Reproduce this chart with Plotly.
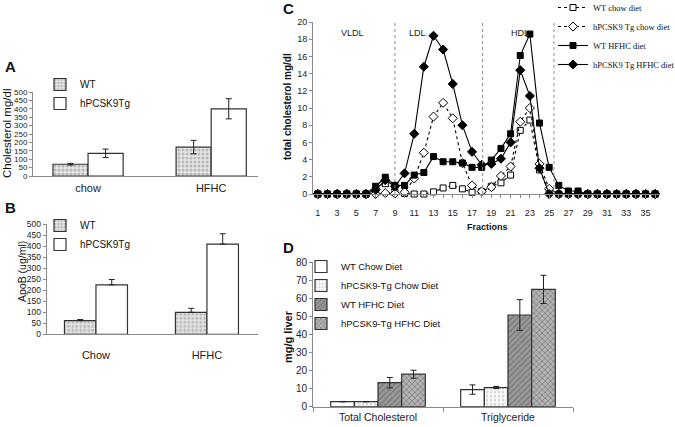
import plotly.graph_objects as go

W, H = 675, 427
def fx(px): return px / W
def fy(py): return 1 - py / H

SANS = "Arial, Liberation Sans, sans-serif"
SERIF = "Times New Roman, Liberation Serif, serif"

# ---------- Panel A: plasma cholesterol ----------
a_cats = ["chow", "HFHC"]
a_wt = [70, 172]
a_wt_err = [5, 40]
a_tg = [135, 400]
a_tg_err = [25, 60]

# ---------- Panel B: ApoB ----------
b_cats = ["Chow", "HFHC"]
b_wt = [62, 100]
b_wt_err = [5, 18]
b_tg = [225, 410]
b_tg_err = [24, 47]

# ---------- Panel C: FPLC fractions ----------
fractions = list(range(1, 37))
c_wt_chow = [0, 0, 0, 0, 0, 0, 0.4, 1.2, 0.2, 0.05, 0, 0, 0.25, 0.7, 1.0, 0.6, 0.2, 0.3,
             0.9, 1.3, 2.2, 7.4, 8.6, 2.8, 0.2, 0, 0, 0, 0, 0, 0, 0, 0, 0, 0, 0]
c_tg_chow = [0, 0, 0, 0, 0, 0, 0, 0.1, 0.05, 0.2, 1.8, 4.8, 9.0, 10.6, 8.8, 3.6, 1.0, 0.3,
             0.8, 2.1, 3.2, 8.4, 10.0, 3.5, 0.6, 0, 0, 0, 0, 0, 0, 0, 0, 0, 0, 0]
c_wt_hfhc = [0, 0, 0, 0, 0, 0, 0.9, 1.95, 1.0, 1.0, 2.2, 2.5, 4.35, 3.75, 3.75, 3.6, 3.1, 3.1,
             3.95, 5.3, 7.0, 16.1, 18.6, 8.25, 3.1, 1.0, 0.35, 0.35, 0, 0, 0, 0, 0, 0, 0, 0]
c_tg_hfhc = [0, 0, 0, 0, 0, 0, 0.5, 1.6, 0.9, 2.4, 7.0, 14.8, 18.4, 16.8, 12.8, 8.0, 4.9, 3.4,
             3.5, 4.1, 6.0, 14.4, 11.4, 3.0, 0, 0, 0, 0, 0, 0, 0, 0, 0, 0, 0, 0]
c_boundaries = [9, 18.1, 25.5]
c_regions = ["VLDL", "LDL", "HDL"]
c_region_pos = [4.6, 11.3, 22.0]

# ---------- Panel D: liver lipids ----------
d_cats = ["Total Cholesterol", "Triglyceride"]
d_wt_chow = [2.8, 9.5]
d_wt_chow_err = [0.1, 2.6]
d_tg_chow = [2.8, 10.6]
d_tg_chow_err = [0.1, 0.6]
d_wt_hfhc = [13.3, 50.8]
d_wt_hfhc_err = [2.9, 8.5]
d_tg_hfhc = [18.0, 65.0]
d_tg_hfhc_err = [2.2, 7.8]

fig = go.Figure()

OUT = "#333333"
ERR = dict(type="data", color="#222222", thickness=1, width=3)
wt_pattern = dict(shape=".", bgcolor="#e6e6e6", fgcolor="#8a8a8a", size=4, solidity=0.45)

# Panel A
fig.add_trace(go.Bar(x=a_cats, y=a_wt, name="WT", xaxis="x", yaxis="y", legend="legend",
                     width=0.285, offset=-0.285,
                     marker=dict(color="#e6e6e6", pattern=wt_pattern, line=dict(color=OUT, width=1.2)),
                     error_y=dict(array=a_wt_err, **ERR)))
fig.add_trace(go.Bar(x=a_cats, y=a_tg, name="hPCSK9Tg", xaxis="x", yaxis="y", legend="legend",
                     width=0.285, offset=0,
                     marker=dict(color="white", line=dict(color=OUT, width=1.2)),
                     error_y=dict(array=a_tg_err, **ERR)))

# Panel B
fig.add_trace(go.Bar(x=b_cats, y=b_wt, name="WT", xaxis="x2", yaxis="y2", legend="legend2",
                     width=0.284, offset=-0.284,
                     marker=dict(color="#e6e6e6", pattern=wt_pattern, line=dict(color=OUT, width=1.2)),
                     error_y=dict(array=b_wt_err, arrayminus=[0, 0], symmetric=False, **ERR)))
fig.add_trace(go.Bar(x=b_cats, y=b_tg, name="hPCSK9Tg", xaxis="x2", yaxis="y2", legend="legend2",
                     width=0.284, offset=0,
                     marker=dict(color="white", line=dict(color=OUT, width=1.2)),
                     error_y=dict(array=b_tg_err, arrayminus=[0, 0], symmetric=False, **ERR)))

# Panel C
c_specs = [
    (c_wt_chow, "WT chow diet", "dot", dict(symbol="square", size=6, color="white", line=dict(color="black", width=1))),
    (c_tg_chow, "hPCSK9 Tg chow diet", "dot", dict(symbol="diamond", size=7, color="white", line=dict(color="black", width=1))),
    (c_wt_hfhc, "WT HFHC diet", "solid", dict(symbol="square", size=6, color="black", line=dict(color="black", width=1))),
    (c_tg_hfhc, "hPCSK9 Tg HFHC diet", "solid", dict(symbol="diamond", size=7, color="black", line=dict(color="black", width=1))),
]
for ys, nm, dash, mk in c_specs:
    fig.add_trace(go.Scatter(x=fractions, y=ys, name=nm, mode="lines+markers", xaxis="x3", yaxis="y3",
                             legend="legend3", cliponaxis=False,
                             line=dict(color="black", width=1.1, dash=dash), marker=mk))

# Panel D
d_specs = [
    (d_wt_chow, d_wt_chow_err, "WT Chow Diet", -0.364, dict(color="white", line=dict(color=OUT, width=1.2))),
    (d_tg_chow, d_tg_chow_err, "hPCSK9-Tg Chow Diet", -0.182,
     dict(color="white", pattern=dict(shape=".", bgcolor="white", fgcolor="#b0b0b0", size=4, solidity=0.4),
          line=dict(color=OUT, width=1.2))),
    (d_wt_hfhc, d_wt_hfhc_err, "WT HFHC Diet", 0.0,
     dict(color="#8c8c8c", pattern=dict(shape="/", bgcolor="#9a9a9a", fgcolor="#555555", size=4, solidity=0.35),
          line=dict(color=OUT, width=1.2))),
    (d_tg_hfhc, d_tg_hfhc_err, "hPCSK9-Tg HFHC Diet", 0.182,
     dict(color="#a0a0a0", pattern=dict(shape="x", bgcolor="#b4b4b4", fgcolor="#555555", size=4, solidity=0.4),
          line=dict(color=OUT, width=1.2))),
]
for ys, es, nm, off, mk in d_specs:
    fig.add_trace(go.Bar(x=d_cats, y=ys, name=nm, xaxis="x4", yaxis="y4", legend="legend4",
                         width=0.182, offset=off, marker=mk, error_y=dict(array=es, **ERR)))

def yax(size):
    return dict(showgrid=False, zeroline=False, showline=True, linecolor="#8a8a8a", linewidth=1,
                ticks="outside", ticklen=3, tickcolor="#8a8a8a",
                tickfont=dict(family=SANS, size=size, color="#222222"))

def xax(size):
    return dict(showgrid=False, zeroline=False, showline=True, linecolor="#8a8a8a", linewidth=1,
                tickfont=dict(family=SANS, size=size, color="#222222"))

fig.update_layout(
    width=W, height=H, margin=dict(l=0, r=0, t=0, b=0, autoexpand=False),
    paper_bgcolor="white", plot_bgcolor="white", barmode="overlay", showlegend=True,
    font=dict(family=SANS, color="#222222"),
    xaxis=dict(domain=[fx(33), fx(258)], anchor="y", type="category", range=[-0.447, 1.38],
               ticks="", ticklabelstandoff=2, **xax(11)),
    yaxis=dict(domain=[fy(176), fy(92)], anchor="x", range=[0, 500], dtick=50, **yax(8)),
    xaxis2=dict(domain=[fx(46.7), fx(258)], anchor="y2", type="category", range=[-0.444, 1.46],
                ticks="", ticklabelstandoff=10, **xax(11)),
    yaxis2=dict(domain=[fy(334.3), fy(224.3)], anchor="x2", range=[0, 500], dtick=50, **yax(8.5)),
    xaxis3=dict(domain=[fx(313), fx(660)], anchor="y3", range=[0.5, 36.5], tickmode="linear", tick0=1, dtick=2,
                ticks="outside", ticklen=3, tickcolor="#8a8a8a",
                minor=dict(dtick=1, tick0=1, ticks="outside", ticklen=3, tickcolor="#8a8a8a"),
                showgrid=False, zeroline=False, showline=True, linecolor="#8a8a8a",
                tickfont=dict(family=SANS, size=9, color="#222222"), ticklabelstandoff=7),
    yaxis3=dict(domain=[fy(194), fy(22)], anchor="x3", range=[0, 20], dtick=2, **yax(9)),
    xaxis4=dict(domain=[fx(313), fx(573)], anchor="y4", type="category", range=[-0.5, 1.5],
                ticks="outside", tickson="boundaries", ticklen=4, tickcolor="#8a8a8a",
                ticklabelstandoff=1, **xax(10.5)),
    yaxis4=dict(domain=[fy(406.7), fy(262.3)], anchor="x4", range=[0, 80], dtick=10, **yax(10)),
    legend=dict(x=fx(40), y=fy(70), xanchor="left", yanchor="top", bgcolor="rgba(0,0,0,0)",
                font=dict(family=SANS, size=10, color="#111111"), itemwidth=30),
    legend2=dict(x=fx(40), y=fy(211), xanchor="left", yanchor="top", bgcolor="rgba(0,0,0,0)",
                 font=dict(family=SANS, size=10, color="#111111"), itemwidth=30),
    legend3=dict(x=fx(553), y=fy(-7), xanchor="left", yanchor="top", bgcolor="rgba(0,0,0,0)",
                 font=dict(family=SERIF, size=8.5, color="#111111"), itemwidth=30),
    legend4=dict(x=fx(301), y=fy(252), xanchor="left", yanchor="top", bgcolor="rgba(0,0,0,0)",
                 font=dict(family=SANS, size=9.5, color="#111111"), itemwidth=30),
)

# Dashed region boundaries in panel C
for b in c_boundaries:
    fig.add_shape(type="line", xref="x3", yref="y3", x0=b, x1=b, y0=0, y1=20,
                  line=dict(color="#8a8a8a", width=1, dash="dot"))
for nm, pos in zip(c_regions, c_region_pos):
    fig.add_annotation(xref="x3", yref="y3", x=pos, y=18.7, text=nm, showarrow=False,
                       font=dict(family=SANS, size=9, color="#222222"))

def label(text, px, py, size=11, bold=False, angle=0, xanchor="center", family=SANS):
    fig.add_annotation(xref="paper", yref="paper", x=fx(px), y=fy(py), text=f"<b>{text}</b>" if bold else text,
                       showarrow=False, textangle=angle, xanchor=xanchor, yanchor="middle",
                       font=dict(family=family, size=size, color="#111111"))

label("A", 3, 67, size=15, bold=True, xanchor="left")
label("B", 3, 207, size=15, bold=True, xanchor="left")
label("C", 281, 8, size=15, bold=True, xanchor="left")
label("D", 281, 247, size=15, bold=True, xanchor="left")
label("Cholesterol mg/dl", 7, 134, size=11.5, angle=-90)
label("ApoB (ug/ml)", 22, 271, size=10.5, angle=-90)
label("total cholesterol mg/dl", 287, 107, size=10, bold=True, angle=-90)
label("Fractions", 487, 227, size=9, bold=True)
label("mg/g liver", 288, 337, size=11, bold=True, angle=-90)

fig.write_html("out.html", config={"displayModeBar": False},
               post_script="document.body.style.margin='0';document.body.style.padding='0';"
                           "document.documentElement.style.overflow='hidden';")
